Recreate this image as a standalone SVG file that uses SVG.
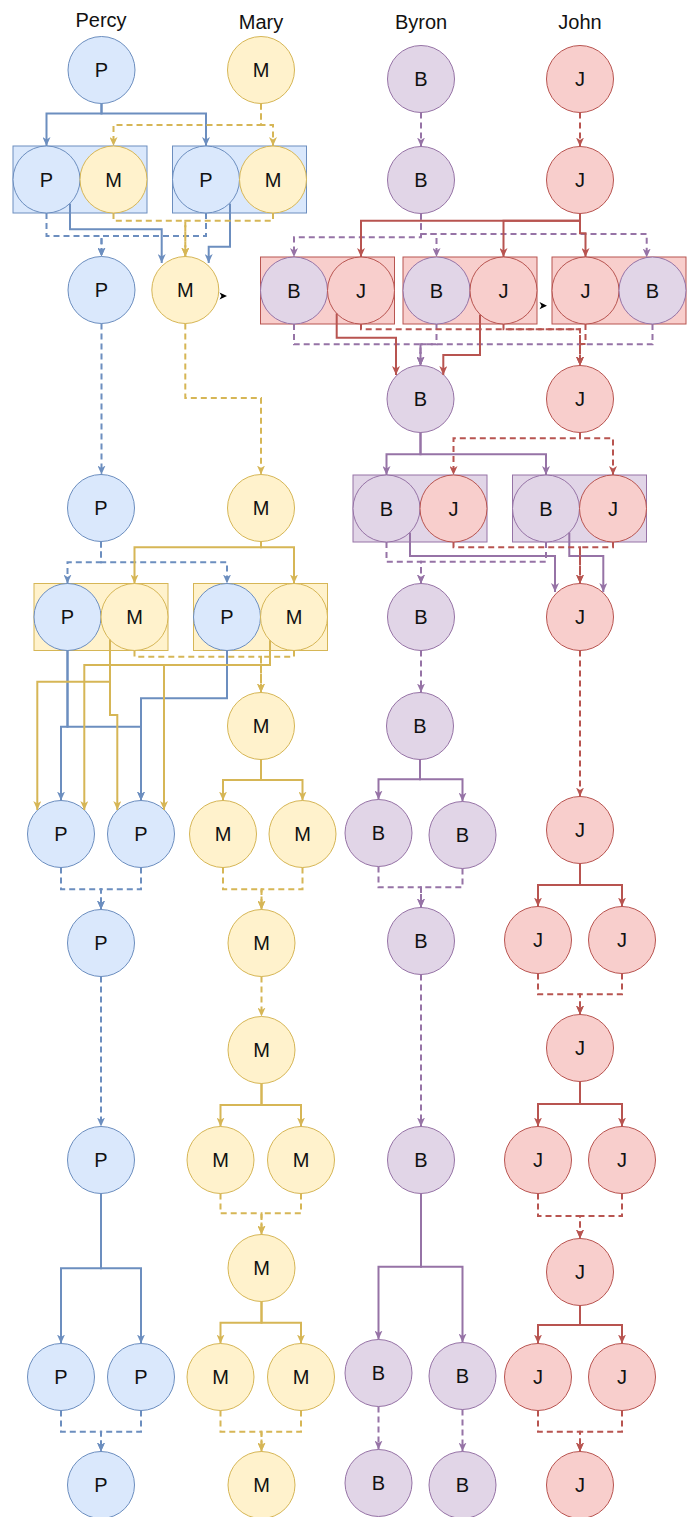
<svg xmlns="http://www.w3.org/2000/svg" width="694" height="1517" viewBox="0 0 694 1517">
<style>
.t{font-family:"Liberation Sans",Arial,sans-serif;font-size:20px;text-anchor:middle;fill:#111}
.cb{fill:#dae8fc;stroke:#6c8ebf;stroke-width:1}
.cy{fill:#fff2cc;stroke:#d6b656;stroke-width:1}
.cp{fill:#e1d5e7;stroke:#9673a6;stroke-width:1}
.cr{fill:#f8cecc;stroke:#b85450;stroke-width:1}
.e{fill:none;stroke-width:2}
.eb{stroke:#6c8ebf;marker-end:url(#ab)}
.ey{stroke:#d6b656;marker-end:url(#ay)}
.ep{stroke:#9673a6;marker-end:url(#ap)}
.er{stroke:#b85450;marker-end:url(#ar)}
.d{stroke-dasharray:6 4}
</style>
<defs>
<marker id="ab" viewBox="0 0 9 8" refX="9" refY="4" markerWidth="9" markerHeight="8" markerUnits="userSpaceOnUse" orient="auto"><path d="M0,0 L9,4 L0,8 L2.5,4 Z" fill="#6c8ebf"/></marker>
<marker id="ay" viewBox="0 0 9 8" refX="9" refY="4" markerWidth="9" markerHeight="8" markerUnits="userSpaceOnUse" orient="auto"><path d="M0,0 L9,4 L0,8 L2.5,4 Z" fill="#d6b656"/></marker>
<marker id="ap" viewBox="0 0 9 8" refX="9" refY="4" markerWidth="9" markerHeight="8" markerUnits="userSpaceOnUse" orient="auto"><path d="M0,0 L9,4 L0,8 L2.5,4 Z" fill="#9673a6"/></marker>
<marker id="ar" viewBox="0 0 9 8" refX="9" refY="4" markerWidth="9" markerHeight="8" markerUnits="userSpaceOnUse" orient="auto"><path d="M0,0 L9,4 L0,8 L2.5,4 Z" fill="#b85450"/></marker>
</defs>

<g id="headers">
<text class="t" x="101" y="26.7">Percy</text>
<text class="t" x="261" y="28.5">Mary</text>
<text class="t" x="421" y="28.5">Byron</text>
<text class="t" x="580" y="28.5">John</text>
</g>

<g id="nodes">
<g id="n_p1"><circle class="cb" cx="101.5" cy="70" r="33.5"/><text class="t" x="101.5" y="77">P</text></g>
<g id="n_m1"><circle class="cy" cx="261" cy="70" r="33.5"/><text class="t" x="261" y="77">M</text></g>
<g id="g1"><rect class="cb" x="13" y="146" width="134" height="67"/>
<g id="g1_p"><circle class="cb" cx="46.5" cy="179.5" r="33.5"/><text class="t" x="46.5" y="186.5">P</text></g>
<g id="g1_m"><circle class="cy" cx="113.5" cy="179.5" r="33.5"/><text class="t" x="113.5" y="186.5">M</text></g></g>
<g id="g2"><rect class="cb" x="172.5" y="146" width="134" height="67"/>
<g id="g2_p"><circle class="cb" cx="206" cy="179.5" r="33.5"/><text class="t" x="206" y="186.5">P</text></g>
<g id="g2_m"><circle class="cy" cx="273" cy="179.5" r="33.5"/><text class="t" x="273" y="186.5">M</text></g></g>
<g id="n_p2"><circle class="cb" cx="101.5" cy="290" r="33.5"/><text class="t" x="101.5" y="297">P</text></g>
<g id="n_m2"><circle class="cy" cx="185.3" cy="290" r="33.5"/><text class="t" x="185.3" y="297">M</text></g>
<g id="n_p3"><circle class="cb" cx="101" cy="508" r="33.5"/><text class="t" x="101" y="515">P</text></g>
<g id="n_m3"><circle class="cy" cx="261" cy="508" r="33.5"/><text class="t" x="261" y="515">M</text></g>
<g id="g3"><rect class="cy" x="34" y="583.5" width="134" height="67"/>
<g id="g3_p"><circle class="cb" cx="67.5" cy="617" r="33.5"/><text class="t" x="67.5" y="624">P</text></g>
<g id="g3_m"><circle class="cy" cx="134.5" cy="617" r="33.5"/><text class="t" x="134.5" y="624">M</text></g></g>
<g id="g4"><rect class="cy" x="193.5" y="583.5" width="134" height="67"/>
<g id="g4_p"><circle class="cb" cx="227" cy="617" r="33.5"/><text class="t" x="227" y="624">P</text></g>
<g id="g4_m"><circle class="cy" cx="294" cy="617" r="33.5"/><text class="t" x="294" y="624">M</text></g></g>
<g id="n_m4"><circle class="cy" cx="261" cy="726" r="33.5"/><text class="t" x="261" y="733">M</text></g>
<g id="n_p4a"><circle class="cb" cx="61" cy="834" r="33.5"/><text class="t" x="61" y="841">P</text></g>
<g id="n_p4b"><circle class="cb" cx="141" cy="834" r="33.5"/><text class="t" x="141" y="841">P</text></g>
<g id="n_m5a"><circle class="cy" cx="223" cy="834" r="33.5"/><text class="t" x="223" y="841">M</text></g>
<g id="n_m5b"><circle class="cy" cx="302.5" cy="834" r="33.5"/><text class="t" x="302.5" y="841">M</text></g>
<g id="n_p5"><circle class="cb" cx="101" cy="943" r="33.5"/><text class="t" x="101" y="950">P</text></g>
<g id="n_m6"><circle class="cy" cx="261.5" cy="943" r="33.5"/><text class="t" x="261.5" y="950">M</text></g>
<g id="n_m7"><circle class="cy" cx="261.5" cy="1050" r="33.5"/><text class="t" x="261.5" y="1057">M</text></g>
<g id="n_p6"><circle class="cb" cx="101" cy="1160" r="33.5"/><text class="t" x="101" y="1167">P</text></g>
<g id="n_m8a"><circle class="cy" cx="220.5" cy="1160" r="33.5"/><text class="t" x="220.5" y="1167">M</text></g>
<g id="n_m8b"><circle class="cy" cx="301" cy="1160" r="33.5"/><text class="t" x="301" y="1167">M</text></g>
<g id="n_m9"><circle class="cy" cx="261.5" cy="1268" r="33.5"/><text class="t" x="261.5" y="1275">M</text></g>
<g id="n_p7a"><circle class="cb" cx="61" cy="1377" r="33.5"/><text class="t" x="61" y="1384">P</text></g>
<g id="n_p7b"><circle class="cb" cx="141" cy="1377" r="33.5"/><text class="t" x="141" y="1384">P</text></g>
<g id="n_m10a"><circle class="cy" cx="220.5" cy="1377" r="33.5"/><text class="t" x="220.5" y="1384">M</text></g>
<g id="n_m10b"><circle class="cy" cx="301" cy="1377" r="33.5"/><text class="t" x="301" y="1384">M</text></g>
<g id="n_p8"><circle class="cb" cx="101" cy="1485" r="33.5"/><text class="t" x="101" y="1492">P</text></g>
<g id="n_m11"><circle class="cy" cx="261.5" cy="1485" r="33.5"/><text class="t" x="261.5" y="1492">M</text></g>

<g id="n_b1"><circle class="cp" cx="421" cy="79" r="33.5"/><text class="t" x="421" y="86">B</text></g>
<g id="n_j1"><circle class="cr" cx="580" cy="79" r="33.5"/><text class="t" x="580" y="86">J</text></g>
<g id="n_b2"><circle class="cp" cx="421" cy="180" r="33.5"/><text class="t" x="421" y="187">B</text></g>
<g id="n_j2"><circle class="cr" cx="580" cy="180" r="33.5"/><text class="t" x="580" y="187">J</text></g>
<g id="g5"><rect class="cr" x="260.5" y="257" width="134" height="67"/>
<g id="g5_b"><circle class="cp" cx="294" cy="290.5" r="33.5"/><text class="t" x="294" y="297.5">B</text></g>
<g id="g5_j"><circle class="cr" cx="361" cy="290.5" r="33.5"/><text class="t" x="361" y="297.5">J</text></g></g>
<g id="g6"><rect class="cr" x="403" y="257" width="134" height="67"/>
<g id="g6_b"><circle class="cp" cx="436.5" cy="290.5" r="33.5"/><text class="t" x="436.5" y="297.5">B</text></g>
<g id="g6_j"><circle class="cr" cx="503.5" cy="290.5" r="33.5"/><text class="t" x="503.5" y="297.5">J</text></g></g>
<g id="g7"><rect class="cr" x="552" y="257" width="134" height="67"/>
<g id="g7_j"><circle class="cr" cx="585.5" cy="290.5" r="33.5"/><text class="t" x="585.5" y="297.5">J</text></g>
<g id="g7_b"><circle class="cp" cx="652.5" cy="290.5" r="33.5"/><text class="t" x="652.5" y="297.5">B</text></g></g>
<g id="n_b3"><circle class="cp" cx="420.5" cy="399" r="33.5"/><text class="t" x="420.5" y="406">B</text></g>
<g id="n_j3"><circle class="cr" cx="580" cy="399" r="33.5"/><text class="t" x="580" y="406">J</text></g>
<g id="g8"><rect class="cp" x="353" y="475" width="134" height="67"/>
<g id="g8_b"><circle class="cp" cx="386.5" cy="508.5" r="33.5"/><text class="t" x="386.5" y="515.5">B</text></g>
<g id="g8_j"><circle class="cr" cx="453.5" cy="508.5" r="33.5"/><text class="t" x="453.5" y="515.5">J</text></g></g>
<g id="g9"><rect class="cp" x="512.5" y="475" width="134" height="67"/>
<g id="g9_b"><circle class="cp" cx="546" cy="508.5" r="33.5"/><text class="t" x="546" y="515.5">B</text></g>
<g id="g9_j"><circle class="cr" cx="613" cy="508.5" r="33.5"/><text class="t" x="613" y="515.5">J</text></g></g>
<g id="n_b4"><circle class="cp" cx="421" cy="617" r="33.5"/><text class="t" x="421" y="624">B</text></g>
<g id="n_j4"><circle class="cr" cx="580" cy="617" r="33.5"/><text class="t" x="580" y="624">J</text></g>
<g id="n_b5"><circle class="cp" cx="420" cy="726" r="33.5"/><text class="t" x="420" y="733">B</text></g>
<g id="n_b6a"><circle class="cp" cx="378.5" cy="833" r="33.5"/><text class="t" x="378.5" y="840">B</text></g>
<g id="n_b6b"><circle class="cp" cx="462.5" cy="835" r="33.5"/><text class="t" x="462.5" y="842">B</text></g>
<g id="n_j5"><circle class="cr" cx="580" cy="830" r="33.5"/><text class="t" x="580" y="837">J</text></g>
<g id="n_b7"><circle class="cp" cx="421" cy="941" r="33.5"/><text class="t" x="421" y="948">B</text></g>
<g id="n_j6a"><circle class="cr" cx="538" cy="940" r="33.5"/><text class="t" x="538" y="947">J</text></g>
<g id="n_j6b"><circle class="cr" cx="622" cy="940" r="33.5"/><text class="t" x="622" y="947">J</text></g>
<g id="n_j7"><circle class="cr" cx="580" cy="1048" r="33.5"/><text class="t" x="580" y="1055">J</text></g>
<g id="n_b8"><circle class="cp" cx="421" cy="1160" r="33.5"/><text class="t" x="421" y="1167">B</text></g>
<g id="n_j8a"><circle class="cr" cx="538" cy="1160" r="33.5"/><text class="t" x="538" y="1167">J</text></g>
<g id="n_j8b"><circle class="cr" cx="622" cy="1160" r="33.5"/><text class="t" x="622" y="1167">J</text></g>
<g id="n_j9"><circle class="cr" cx="580" cy="1272" r="33.5"/><text class="t" x="580" y="1279">J</text></g>
<g id="n_b9a"><circle class="cp" cx="378.5" cy="1373" r="33.5"/><text class="t" x="378.5" y="1380">B</text></g>
<g id="n_b9b"><circle class="cp" cx="462.5" cy="1376" r="33.5"/><text class="t" x="462.5" y="1383">B</text></g>
<g id="n_j10a"><circle class="cr" cx="538" cy="1377" r="33.5"/><text class="t" x="538" y="1384">J</text></g>
<g id="n_j10b"><circle class="cr" cx="622" cy="1377" r="33.5"/><text class="t" x="622" y="1384">J</text></g>
<g id="n_b10a"><circle class="cp" cx="378.5" cy="1483" r="33.5"/><text class="t" x="378.5" y="1490">B</text></g>
<g id="n_b10b"><circle class="cp" cx="462.5" cy="1485" r="33.5"/><text class="t" x="462.5" y="1492">B</text></g>
<g id="n_j11"><circle class="cr" cx="580" cy="1485" r="33.5"/><text class="t" x="580" y="1492">J</text></g>
</g>

<g id="connectors">
<!-- blue -->
<path class="e eb" d="M101.5,103.5 V113.5 H46.5 V146"/>
<path class="e eb" d="M101.5,103.5 V113.5 H206 V146"/>
<path class="e eb d" d="M46.5,213 V236 H101.5 V256.5"/>
<path class="e eb d" d="M206,213 V236 H101.5 V256.5"/>
<path class="e eb" d="M70,203.4 V229.3 H161.7 V263"/>
<path class="e eb" d="M230,203.4 V246.7 H208.7 V263"/>
<path class="e eb d" d="M101.5,323.5 V474.5"/>
<path class="e eb d" d="M101,541.5 V562.3 H67.5 V583.5"/>
<path class="e eb d" d="M101,541.5 V562.3 H227 V583.5"/>
<path class="e eb" d="M67.5,650.5 V726.7 H61 V800.5"/>
<path class="e eb" d="M67.5,650.5 V726.7 H141 V800.5"/>
<path class="e eb" d="M227,650.5 V698.3 H141 V800.5"/>
<path class="e eb d" d="M61,867.5 V889.3 H101 V909.5"/>
<path class="e eb d" d="M141,867.5 V889.3 H101 V909.5"/>
<path class="e eb d" d="M101,976.5 V1126.5"/>
<path class="e eb" d="M101,1193.5 V1268.3 H61 V1343.5"/>
<path class="e eb" d="M101,1193.5 V1268.3 H141 V1343.5"/>
<path class="e eb d" d="M61,1410.5 V1431.7 H101 V1451.5"/>
<path class="e eb d" d="M141,1410.5 V1431.7 H101 V1451.5"/>
<!-- yellow -->
<path class="e ey d" d="M261,103.5 V125 H113.5 V146"/>
<path class="e ey d" d="M261,103.5 V125 H273 V146"/>
<path class="e ey d" d="M113.5,213 V220.7 H185.3 V256.5"/>
<path class="e ey d" d="M273,213 V220.7 H185.3 V256.5"/>
<path class="e ey d" d="M185.3,323.5 V398 H261 V474.5"/>
<path class="e ey" d="M261,541.5 V547.3 H134.5 V583.5"/>
<path class="e ey" d="M261,541.5 V547.3 H294 V583.5"/>
<path class="e ey d" d="M134.5,650.5 V656.7 H261 V692.5"/>
<path class="e ey d" d="M294,650.5 V656.7 H261 V692.5"/>
<path class="e ey" d="M110,639.8 V681.7 H37.3 V810"/>
<path class="e ey" d="M110,639.8 V715 H117.3 V810"/>
<path class="e ey" d="M270,640.4 V665 H84.3 V810"/>
<path class="e ey" d="M270,640.4 V665 H164 V810"/>
<path class="e ey" d="M261,759.5 V780 H223 V800.5"/>
<path class="e ey" d="M261,759.5 V780 H302.5 V800.5"/>
<path class="e ey d" d="M223,867.5 V889.3 H261.5 V909.5"/>
<path class="e ey d" d="M302.5,867.5 V889.3 H261.5 V909.5"/>
<path class="e ey d" d="M261.5,976.5 V1016.5"/>
<path class="e ey" d="M261.5,1083.5 V1105 H220.5 V1126.5"/>
<path class="e ey" d="M261.5,1083.5 V1105 H301 V1126.5"/>
<path class="e ey d" d="M220.5,1193.5 V1213.3 H261.5 V1234.5"/>
<path class="e ey d" d="M301,1193.5 V1213.3 H261.5 V1234.5"/>
<path class="e ey" d="M261.5,1301.5 V1322.7 H220.5 V1343.5"/>
<path class="e ey" d="M261.5,1301.5 V1322.7 H301 V1343.5"/>
<path class="e ey d" d="M220.5,1410.5 V1431.7 H261.5 V1451.5"/>
<path class="e ey d" d="M301,1410.5 V1431.7 H261.5 V1451.5"/>
<!-- purple -->
<path class="e ep d" d="M421,112.5 V146.5"/>
<path class="e ep d" d="M421,213.5 V237.3 H294 V257"/>
<path class="e ep d" d="M421,213.5 V234 H436.5 V257"/>
<path class="e ep d" d="M421,213.5 V234 H646.7 V257.5"/>
<path class="e ep d" d="M294,324 V344.3 H420.5 V365.5"/>
<path class="e ep d" d="M436.5,324 V344.3 H420.5 V365.5"/>
<path class="e ep d" d="M652.5,324 V344.3 H420.5 V365.5"/>
<path class="e ep" d="M420.5,432.5 V454.3 H386.5 V475"/>
<path class="e ep" d="M420.5,432.5 V454.3 H546 V475"/>
<path class="e ep d" d="M386.5,542 V561.7 H421 V583.5"/>
<path class="e ep d" d="M546,542 V561.7 H421 V583.5"/>
<path class="e ep" d="M410,532.4 V556 H555 V592"/>
<path class="e ep" d="M569.3,532.6 V556 H603.3 V592"/>
<path class="e ep d" d="M421,650.5 V692.5"/>
<path class="e ep" d="M420,759.5 V779.3 H378.5 V799.5"/>
<path class="e ep" d="M420,759.5 V779.3 H462.5 V801.5"/>
<path class="e ep d" d="M378.5,866.5 V887.3 H421 V907.5"/>
<path class="e ep d" d="M462.5,868.5 V887.3 H421 V907.5"/>
<path class="e ep d" d="M421,974.5 V1126.5"/>
<path class="e ep" d="M421,1193.5 V1266.7 H378.5 V1339.5"/>
<path class="e ep" d="M421,1193.5 V1266.7 H462.5 V1342.5"/>
<path class="e ep d" d="M378.5,1406.5 V1449.5"/>
<path class="e ep d" d="M462.5,1409.5 V1451.5"/>
<!-- red -->
<path class="e er d" d="M580,112.5 V146.5"/>
<path class="e er" d="M580,213.5 V220.7 H361 V257"/>
<path class="e er" d="M580,213.5 V220.7 H503.5 V257"/>
<path class="e er" d="M580,213.5 V233.3 H585.5 V257"/>
<path class="e er d" d="M361,324 V329.3 H580 V365.5"/>
<path class="e er d" d="M503.5,324 V329.3 H580 V365.5"/>
<path class="e er d" d="M585.5,324 V344 H580 V365.5"/>
<path class="e er" d="M336.7,313.5 V337.7 H396 V375"/>
<path class="e er" d="M480,314.4 V355 H443.3 V375"/>
<path class="e er d" d="M580,432.5 V438.3 H453.5 V475"/>
<path class="e er d" d="M580,432.5 V438.3 H613 V475"/>
<path class="e er d" d="M453.5,542 V547.3 H580 V583.5"/>
<path class="e er d" d="M613,542 V547.3 H580 V583.5"/>
<path class="e er d" d="M580,650.5 V796.5"/>
<path class="e er" d="M580,863.5 V885 H538 V906.5"/>
<path class="e er" d="M580,863.5 V885 H622 V906.5"/>
<path class="e er d" d="M538,973.5 V994.3 H580 V1014.5"/>
<path class="e er d" d="M622,973.5 V994.3 H580 V1014.5"/>
<path class="e er" d="M580,1081.5 V1104 H538 V1126.5"/>
<path class="e er" d="M580,1081.5 V1104 H622 V1126.5"/>
<path class="e er d" d="M538,1193.5 V1216 H580 V1238.5"/>
<path class="e er d" d="M622,1193.5 V1216 H580 V1238.5"/>
<path class="e er" d="M580,1305.5 V1325 H538 V1343.5"/>
<path class="e er" d="M580,1305.5 V1325 H622 V1343.5"/>
<path class="e er d" d="M538,1410.5 V1431.7 H580 V1451.5"/>
<path class="e er d" d="M622,1410.5 V1431.7 H580 V1451.5"/>
<!-- stray arrowheads -->
<path d="M219.5,292.5 L227,296 L219.5,299.5 L221.5,296 Z" fill="#000"/>
<path d="M539.5,302 L547,305.7 L539.5,309.2 L541.5,305.7 Z" fill="#000"/>
</g>
</svg>
